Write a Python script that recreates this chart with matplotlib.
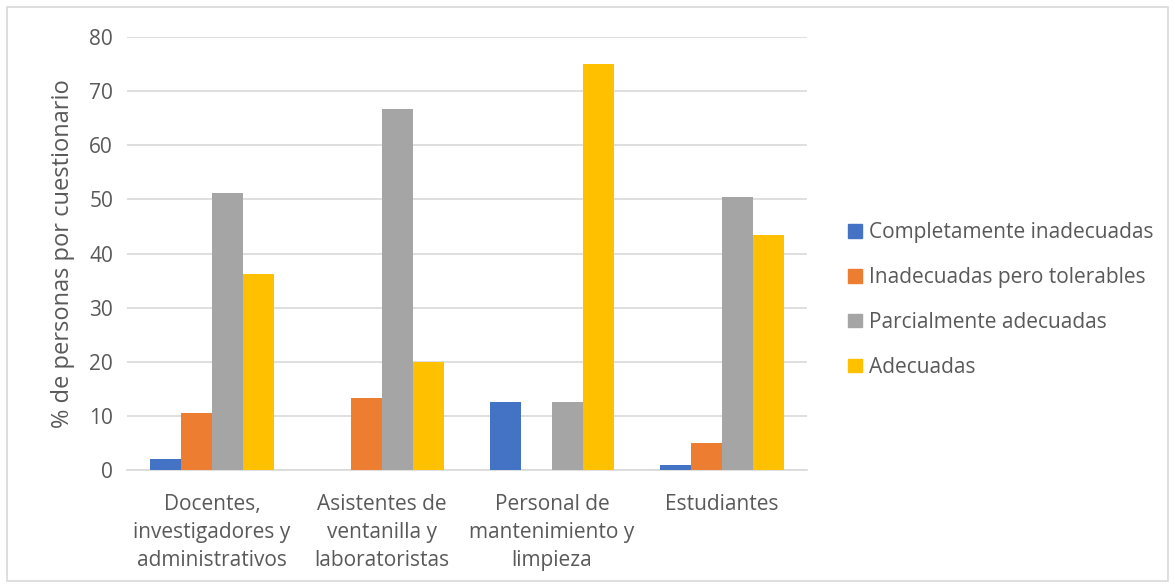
import numpy as np
import matplotlib.pyplot as plt
from matplotlib.patches import Rectangle, Patch

# data
grupos = ['Docentes,\ninvestigadores y\nadministrativos',
          'Asistentes de\nventanilla y\nlaboratoristas',
          'Personal de\nmantenimiento y\nlimpieza',
          'Estudiantes']
series = ['Completamente inadecuadas', 'Inadecuadas pero tolerables',
          'Parcialmente adecuadas', 'Adecuadas']
completamente = [2.1, 0, 12.5, 0.9]
inadecuadas = [10.6, 13.3, 0, 5.0]
parcialmente = [51.1, 66.7, 12.5, 50.4]
adecuadas = [36.2, 20.0, 75.0, 43.4]
colores = ['#4472C4', '#ED7D31', '#A5A5A5', '#FFC000']

plt.rcParams['font.family'] = ['Open Sans', 'DejaVu Sans']
txt = '#595959'

fig = plt.figure(figsize=(11.75, 5.88), dpi=100)
ax = fig.add_axes([0.108, 0.2007, 0.579, 0.7363])

x = np.arange(len(grupos))
w = 0.182
valores = [completamente, inadecuadas, parcialmente, adecuadas]
for i, vals in enumerate(valores):
    ax.bar(x + (i - 1.5) * w, vals, w, color=colores[i], label=series[i], zorder=3)

ax.set_xlim(-0.5, 3.5)
ax.set_ylim(0, 80)
ax.set_yticks(range(0, 81, 10))
ax.set_xticks(x)
ax.set_xticklabels(grupos, fontsize=15, color=txt, linespacing=1.45)
ax.tick_params(axis='y', labelsize=15, colors=txt, length=0, pad=10)
ax.tick_params(axis='x', length=0, pad=17)
ax.yaxis.grid(True, color='#d9d9d9', lw=1.2, zorder=0)
for s in ['top', 'right', 'left']:
    ax.spines[s].set_visible(False)
ax.spines['bottom'].set_color('#d9d9d9')
ax.spines['bottom'].set_linewidth(1.2)
ax.set_ylabel('% de personas por cuestionario', fontsize=17, color=txt, labelpad=10)

handles = [Patch(color=c) for c in colores]
leg = fig.legend(handles, series, loc='center left', bbox_to_anchor=(0.706, 0.49),
                 frameon=False, fontsize=15, labelspacing=1.15,
                 handlelength=0.65, handleheight=0.65, handletextpad=0.35)
for t in leg.get_texts():
    t.set_color(txt)

fig.patches.append(Rectangle((0.006, 0.012), 0.988, 0.976, transform=fig.transFigure,
                             fill=False, edgecolor='#d9d9d9', lw=1.2))

fig.savefig('out.png', dpi=100)
